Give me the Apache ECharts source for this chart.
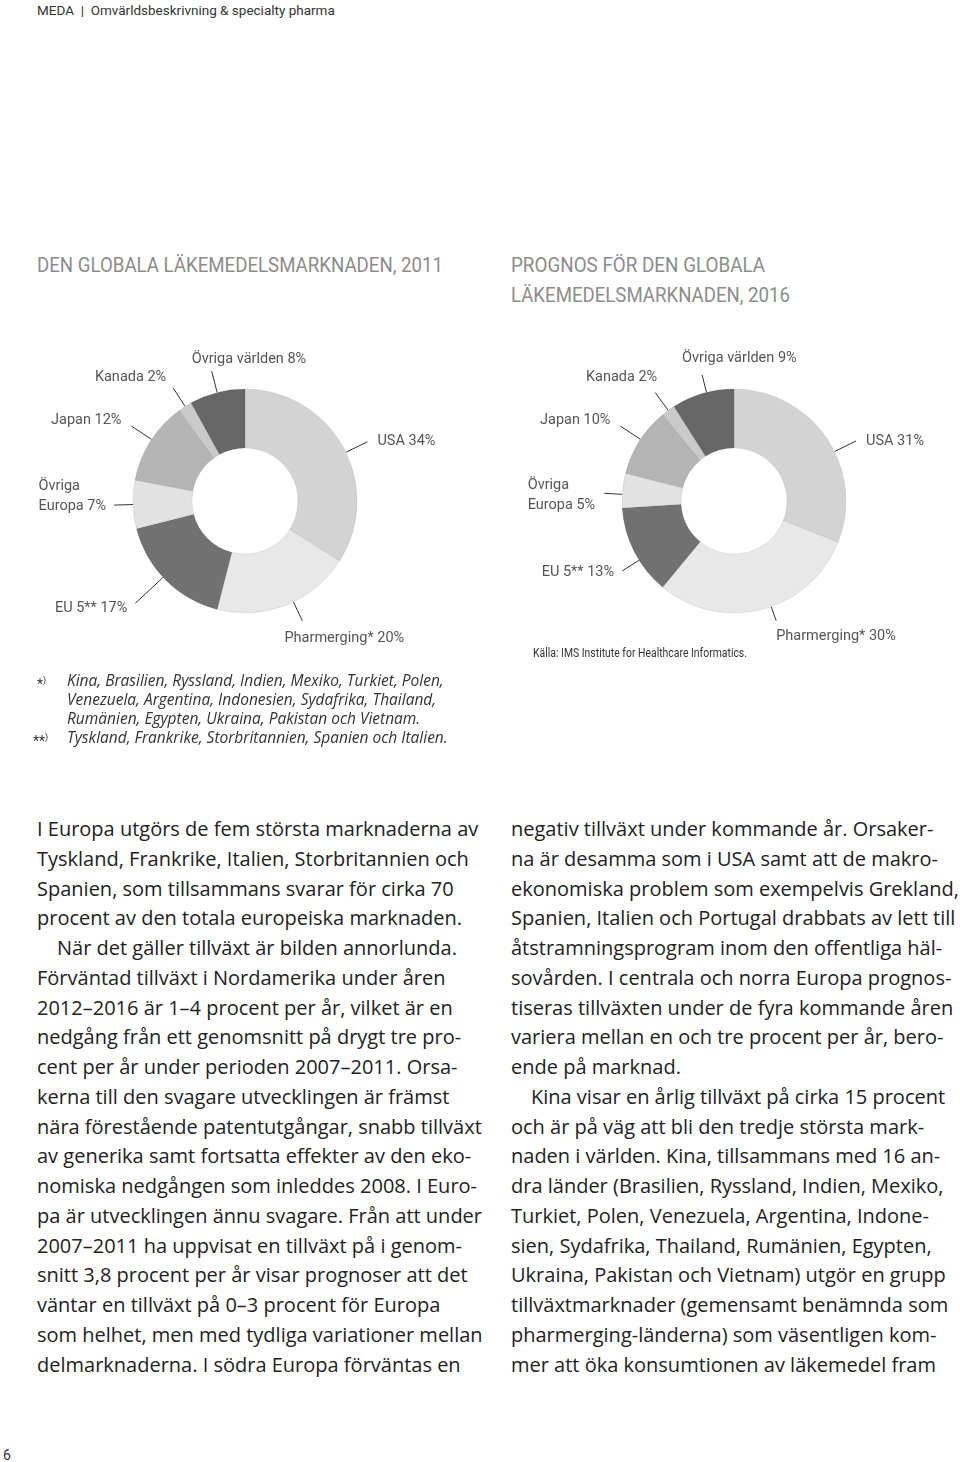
<!DOCTYPE html>
<html><head><meta charset="utf-8">
<script src="https://cdn.jsdelivr.net/npm/echarts@6/dist/echarts.min.js"></script>
<style>
html,body{margin:0;padding:0;background:#fff;}
#page{position:relative;width:960px;height:1462px;overflow:hidden;font-family:Roboto,"Noto Sans",sans-serif;}
.abs{position:absolute;white-space:nowrap;}
.hdr{left:37px;top:2px;font-size:13.5px;line-height:16px;color:#333;}
.title{font-size:21px;line-height:30px;color:#8c8c8c;transform-origin:0 0;}
.fn{font-family:"Open Sans",sans-serif;font-size:15.5px;line-height:19px;color:#333;font-style:italic;}
.mk{font-style:normal;}
.body{font-family:"Open Sans",sans-serif;font-size:20px;line-height:29.75px;color:#222;}
.body div{white-space:nowrap;}
.ind{padding-left:20px;}
.src{font-size:12px;line-height:14px;color:#333;transform-origin:0 0;}
#chart{position:absolute;left:0;top:300px;width:960px;height:380px;}
</style></head>
<body><div id="page">
<div class="abs hdr">MEDA &nbsp;|&nbsp; Omvärldsbeskrivning &amp; specialty pharma</div>
<div class="abs title" id="t1" style="left:37px;top:250px;">DEN GLOBALA LÄKEMEDELSMARKNADEN, 2011</div>
<div class="abs title" id="t2" style="left:511px;top:250px;">PROGNOS FÖR DEN GLOBALA</div>
<div class="abs title" id="t3" style="left:511px;top:280px;">LÄKEMEDELSMARKNADEN, 2016</div>
<div id="chart"></div>
<div class="abs src" id="src" style="left:533px;top:646px;">Källa: IMS Institute for Healthcare Informatics.</div>
<div class="abs fn" style="left:37px;top:671px;"><span class="mk" style="font-family:Roboto;font-size:14px">*<sup style="font-size:9px">)</sup></span></div>
<div class="abs fn" style="left:33px;top:728px;"><span class="mk" style="font-family:Roboto;font-size:14px">**<sup style="font-size:9px">)</sup></span></div>
<div class="abs fn" style="left:67px;top:671px;">
<div>Kina, Brasilien, Ryssland, Indien, Mexiko, Turkiet, Polen,</div>
<div>Venezuela, Argentina, Indonesien, Sydafrika, Thailand,</div>
<div>Rumänien, Egypten, Ukraina, Pakistan och Vietnam.</div>
<div>Tyskland, Frankrike, Storbritannien, Spanien och Italien.</div>
</div>
<div class="abs body" style="left:37px;top:814px;">
<div>I Europa utgörs de fem största marknaderna av</div>
<div>Tyskland, Frankrike, Italien, Storbritannien och</div>
<div>Spanien, som tillsammans svarar för cirka 70</div>
<div>procent av den totala europeiska marknaden.</div>
<div class="ind">När det gäller tillväxt är bilden annorlunda.</div>
<div>Förväntad tillväxt i Nordamerika under åren</div>
<div>2012–2016 är 1–4 procent per år, vilket är en</div>
<div>nedgång från ett genomsnitt på drygt tre pro-</div>
<div>cent per år under perioden 2007–2011. Orsa-</div>
<div>kerna till den svagare utvecklingen är främst</div>
<div>nära förestående patentutgångar, snabb tillväxt</div>
<div>av generika samt fortsatta effekter av den eko-</div>
<div>nomiska nedgången som inleddes 2008. I Euro-</div>
<div>pa är utvecklingen ännu svagare. Från att under</div>
<div>2007–2011 ha uppvisat en tillväxt på i genom-</div>
<div>snitt 3,8 procent per år visar prognoser att det</div>
<div>väntar en tillväxt på 0–3 procent för Europa</div>
<div>som helhet, men med tydliga variationer mellan</div>
<div>delmarknaderna. I södra Europa förväntas en</div>
</div>
<div class="abs body" style="left:511px;top:814px;">
<div>negativ tillväxt under kommande år. Orsaker-</div>
<div>na är desamma som i USA samt att de makro-</div>
<div>ekonomiska problem som exempelvis Grekland,</div>
<div>Spanien, Italien och Portugal drabbats av lett till</div>
<div>åtstramningsprogram inom den offentliga häl-</div>
<div>sovården. I centrala och norra Europa prognos-</div>
<div>tiseras tillväxten under de fyra kommande åren</div>
<div>variera mellan en och tre procent per år, bero-</div>
<div>ende på marknad.</div>
<div class="ind">Kina visar en årlig tillväxt på cirka 15 procent</div>
<div>och är på väg att bli den tredje största mark-</div>
<div>naden i världen. Kina, tillsammans med 16 an-</div>
<div>dra länder (Brasilien, Ryssland, Indien, Mexiko,</div>
<div>Turkiet, Polen, Venezuela, Argentina, Indone-</div>
<div>sien, Sydafrika, Thailand, Rumänien, Egypten,</div>
<div>Ukraina, Pakistan och Vietnam) utgör en grupp</div>
<div>tillväxtmarknader (gemensamt benämnda som</div>
<div>pharmerging-länderna) som väsentligen kom-</div>
<div>mer att öka konsumtionen av läkemedel fram</div>
</div>
<div class="abs" style="left:3px;top:1447px;font-size:14px;line-height:16px;color:#333;">6</div>
</div>
<script>
// ---- data ----
const categories = ['USA', 'Pharmerging*', 'EU 5**', 'Övriga\nEuropa', 'Japan', 'Kanada', 'Övriga världen'];
const share2011 = [34, 20, 17, 7, 12, 2, 8];
const share2016 = [31, 30, 13, 5, 10, 2, 9];

// ---- styles / layout ----
const sliceColors = ['#d3d3d3', '#e8e8e8', '#717171', '#e2e2e2', '#b4b4b4', '#cacaca', '#676767'];
const OUTER_R = 112;
// leader line: length, angular tweak (deg); text: side (R starts at gx from line end, L ends at gx), cy first-line centre offset
const place2011 = [
  {len: 24, rot: 3,  side: 'R', gx: 10,  cy: 0},
  {len: 21, rot: -4, side: 'R', gx: -18, cy: 17},
  {len: 38, rot: 2,  side: 'L', gx: -8,  cy: 5},
  {len: 19, rot: 0,  side: 'L', gx: -8,  cy: -19},
  {len: 24, rot: 1,  side: 'L', gx: -10, cy: -6},
  {len: 22, rot: 0,  side: 'L', gx: -7,  cy: -10},
  {len: 22, rot: 0,  side: 'R', gx: -20, cy: -12}
];
const place2016 = [
  {len: 24, rot: 8,  side: 'R', gx: 10,  cy: 0},
  {len: 15, rot: -5, side: 'R', gx: 0,   cy: 16},
  {len: 20, rot: -5, side: 'L', gx: -8,  cy: 1},
  {len: 18, rot: -2, side: 'L', gx: -9,  cy: -8},
  {len: 24, rot: 1,  side: 'L', gx: -10, cy: -6},
  {len: 22, rot: 0,  side: 'L', gx: 2,   cy: -15},
  {len: 18, rot: 2,  side: 'R', gx: -20, cy: -17}
];

function midAngles(values) {
  const total = values.reduce((s, v) => s + v, 0);
  let acc = 0;
  return values.map(v => { const m = (acc + v / 2) / total * 2 * Math.PI; acc += v; return m; });
}

function pieSeries(values, center, places) {
  const mids = midAngles(values);
  return {
    type: 'pie',
    center: center,
    radius: [53, OUTER_R],
    startAngle: 90,
    clockwise: true,
    avoidLabelOverlap: false,
    silent: true,
    animation: false,
    emphasis: {disabled: true},
    itemStyle: {borderWidth: 1, borderColor: 'rgba(0,0,0,0.07)'},
    label: {
      show: true, position: 'outside',
      formatter: p => p.name + ' ' + p.value + '%',
      fontFamily: 'Roboto', fontSize: 14.5, color: '#555', lineHeight: 20
    },
    labelLine: {show: true, length2: 0, smooth: false, lineStyle: {color: '#333', width: 1}},
    labelLayout: function (params) {
      const i = params.dataIndex;
      const pl = places[i];
      const cx = center[0], cy = center[1];
      const a = mids[i] + pl.rot * Math.PI / 180;
      const dx = Math.sin(a), dy = -Math.cos(a);
      const p0 = [cx + dx * OUTER_R, cy + dy * OUTER_R];
      const p1 = [cx + dx * (OUTER_R + pl.len), cy + dy * (OUTER_R + pl.len)];
      const w = params.labelRect.width;
      const x = pl.side === 'R' ? p1[0] + pl.gx : p1[0] + pl.gx - w;
      const y = p1[1] + pl.cy - 10;
      return {x: x, y: y, align: 'left', verticalAlign: 'top', labelLinePoints: [p0, p1]};
    },
    data: values.map((v, i) => ({
      name: categories[i], value: v,
      itemStyle: {color: sliceColors[i]},
      labelLine: {length: places[i].len}
    }))
  };
}

const chart = echarts.init(document.getElementById('chart'), null, {renderer: 'canvas'});
chart.setOption({
  animation: false,
  series: [
    pieSeries(share2011, [245, 201], place2011),
    pieSeries(share2016, [734, 201], place2016)
  ]
});

function fit(id, w) {
  const el = document.getElementById(id);
  el.style.transform = 'none';
  const r = el.getBoundingClientRect().width;
  if (r > 0) el.style.transform = 'scaleX(' + (w / r) + ')';
}
function fitAll() {
  fit('t1', 406); fit('t2', 254); fit('t3', 279); fit('src', 214);
}
fitAll();
if (document.fonts && document.fonts.ready) document.fonts.ready.then(fitAll);
</script>
</body></html>
